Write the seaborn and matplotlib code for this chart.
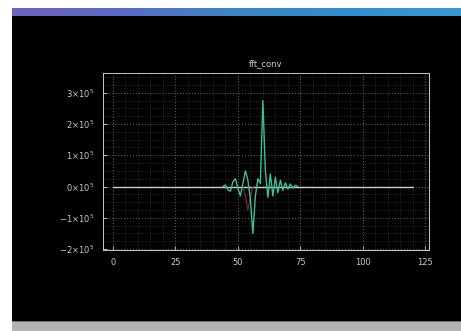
import numpy as np
import pandas as pd
import matplotlib
matplotlib.use("Agg")
import matplotlib.pyplot as plt
import seaborn as sns
from matplotlib.patches import Rectangle

# ---- data ----
x_vals = list(range(0, 121))
wave_x = list(range(44, 75))
wave_y = [0.0, 0.05, -0.1, -0.15, 0.15, 0.25, -0.05, -0.3, 0.1, 0.5, 0.2, -0.4,
          -1.5, -0.3, 0.25, 0.1, 2.75, 0.5, -0.35, 0.4, -0.3, 0.3, -0.2, 0.2,
          -0.12, 0.12, -0.08, 0.08, -0.05, 0.04, 0.0]
aux_x = [52, 53, 54, 55, 56]
aux_y = [0.0, -0.3, -0.75, -0.35, 0.0]
x_ticks = [0, 25, 50, 75, 100, 125]
x_ticklabels = ["0", "25", "50", "75", "100", "125"]
y_ticks = [-2, -1, 0, 1, 2, 3]
y_ticklabels = [r"$-2{\times}10^5$", r"$-1{\times}10^5$", r"$0{\times}10^5$",
                r"$1{\times}10^5$", r"$2{\times}10^5$", r"$3{\times}10^5$"]
title_text = "fft_conv"

base = pd.DataFrame({"x": x_vals, "y": [0.0] * len(x_vals)})
wave = pd.DataFrame({"x": wave_x, "y": wave_y})
aux = pd.DataFrame({"x": aux_x, "y": aux_y})

sns.set_theme(style="dark")
plt.rcParams["font.family"] = ["DejaVu Sans"]

W, H = 461, 331
fig = plt.figure(figsize=(W / 100, H / 100), dpi=100, facecolor="black")

# window chrome
fig.patches.append(Rectangle((0, 0), 12 / W, 1, transform=fig.transFigure,
                             facecolor="white", edgecolor="none", zorder=0))
fig.patches.append(Rectangle((0, 1 - 8 / H), 1, 8 / H, transform=fig.transFigure,
                             facecolor="white", edgecolor="none", zorder=0))
fig.patches.append(Rectangle((12 / W, 0), 1, 9 / H, transform=fig.transFigure,
                             facecolor="#b4b4b4", edgecolor="none", zorder=0))
fig.patches.append(Rectangle((12 / W, 9 / H), 1, 1.5 / H, transform=fig.transFigure,
                             facecolor="#707070", edgecolor="none", zorder=0))
bar_ax = fig.add_axes([12 / W, 1 - 16 / H, 1 - 12 / W, 8 / H])
grad = np.linspace(0, 1, 256)[None, :]
cmap = matplotlib.colors.LinearSegmentedColormap.from_list(
    "tb", ["#6f62c4", "#5a6cc8", "#3a86c8", "#2f8fd0", "#3a9ad8"])
bar_ax.imshow(grad, aspect="auto", cmap=cmap)
bar_ax.set_axis_off()

# main axes
ax = fig.add_axes([103 / W, 1 - 250 / H, (429 - 103) / W, (250 - 73) / H])
ax.set_facecolor("black")
sns.lineplot(data=base, x="x", y="y", ax=ax, color="#cfcfcf", linewidth=1.0)
sns.lineplot(data=aux, x="x", y="y", ax=ax, color="#8a2a3a", linewidth=0.8)
sns.lineplot(data=wave, x="x", y="y", ax=ax, color="#3cbf98", linewidth=1.0)

ax.set_xlim(-4, 126.5)
ax.set_ylim(-2.03, 3.63)
ax.set_xticks(x_ticks)
ax.set_xticklabels(x_ticklabels)
ax.set_yticks(y_ticks)
ax.set_yticklabels(y_ticklabels)
ax.set_xticks(np.arange(-0, 126, 5), minor=True)
ax.set_yticks(np.arange(-2, 3.6, 0.25), minor=True)
ax.grid(which="major", color="#5a5a5a", linestyle=":", linewidth=0.8)
ax.grid(which="minor", color="#333333", linestyle=":", linewidth=0.6)
ax.set_xlabel("")
ax.set_ylabel("")
ax.tick_params(colors="#c8c8c8", labelsize=6, length=3, width=0.6,
               direction="in", left=True, bottom=True, pad=6)
for s in ax.spines.values():
    s.set_visible(True)
    s.set_color("#c8c8c8")
    s.set_linewidth(0.7)
ax.set_title(title_text, color="#d0d0d0", fontsize=6, pad=5)

fig.savefig("out.png", dpi=100, facecolor="black")
